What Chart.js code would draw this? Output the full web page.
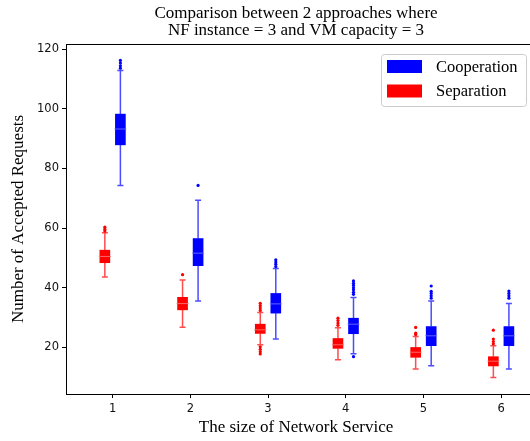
<!DOCTYPE html>
<html>
<head>
<meta charset="utf-8">
<script src="https://cdn.jsdelivr.net/npm/chart.js@4/dist/chart.umd.min.js"></script>
<style>
  html, body { margin: 0; padding: 0; background: #fff; overflow: hidden; }
  #wrap { width: 530px; height: 441px; }
</style>
</head>
<body>
<div id="wrap"><canvas id="chart"></canvas></div>
<script>
// x categories (size of network service) and y tick labels
const sizes = [1, 2, 3, 4, 5, 6];
const yTicks = [20, 40, 60, 80, 100, 120];

// Cooperation box stats per size
const coopLow    = [74.3, 35.6, 22.8, 17.9, 13.9, 12.8];
const coopQ1     = [87.9, 47.4, 31.5, 24.6, 20.6, 20.6];
const coopMedian = [93.2, 51.6, 34.6, 27.8, 23.9, 23.9];
const coopQ3     = [98.2, 56.5, 38.1, 29.8, 27.0, 27.0];
const coopHigh   = [112.8, 69.3, 46.5, 36.7, 35.6, 34.7];
const coopFliers = [
  [113.6, 114.4, 115.3, 116.2],
  [74.3],
  [47.1, 47.9, 48.6, 49.4],
  [16.9, 37.8, 38.5, 39.3, 40.0, 40.8, 41.5, 42.3],
  [36.5, 37.3, 38.1, 38.8, 40.6],
  [36.5, 37.3, 38.1, 38.9],
];

// Separation box stats per size
const sepLow    = [43.6, 26.8, 20.9, 15.9, 12.8, 9.9];
const sepQ1     = [48.4, 32.6, 24.7, 19.7, 16.7, 13.8];
const sepMedian = [50.5, 34.7, 25.9, 20.9, 18.4, 15.4];
const sepQ3     = [52.6, 36.8, 27.8, 23.0, 20.0, 16.9];
const sepHigh   = [58.4, 42.6, 31.7, 26.6, 23.7, 20.6];
const sepFliers = [
  [59.0, 59.6, 60.3],
  [44.4],
  [17.8, 18.6, 19.4, 20.2, 32.4, 33.2, 34.0, 34.8],
  [27.4, 28.2, 29.0, 29.8],
  [24.3, 24.8, 26.7],
  [21.2, 22.0, 22.8, 25.8],
];

const BLUE = '#0000ff';
const RED = '#ff0000';
const SHIFT = 0.1;

const groups = [
  { low: coopLow, q1: coopQ1, med: coopMedian, q3: coopQ3, high: coopHigh, shift: SHIFT,
    line: 'rgba(0,0,255,0.7)', median: 'rgba(110,110,255,0.9)' },
  { low: sepLow, q1: sepQ1, med: sepMedian, q3: sepQ3, high: sepHigh, shift: -SHIFT,
    line: 'rgba(255,0,0,0.7)', median: 'rgba(255,110,110,0.9)' },
];

function boxData(q1, q3, shift) {
  return sizes.map((s, i) => ({ x: s + shift, y: [q1[i], q3[i]] }));
}

function flierData(fliers, shift) {
  return fliers.flatMap((vals, i) => vals.map(v => ({ x: sizes[i] + shift, y: v })));
}

const serif = "'Liberation Serif', 'DejaVu Serif', serif";
const sans = "'DejaVu Sans', sans-serif";

const boxPlot = {
  id: 'boxPlot',
  beforeDatasetsDraw(chart) {
    const { ctx, scales: { x, y } } = chart;
    ctx.save();
    ctx.lineWidth = 1.5;
    groups.forEach(g => {
      ctx.strokeStyle = g.line;
      sizes.forEach((s, i) => {
        const px = x.getPixelForValue(s + g.shift);
        const yl = y.getPixelForValue(g.low[i]);
        const yh = y.getPixelForValue(g.high[i]);
        ctx.beginPath();
        ctx.moveTo(px, yl); ctx.lineTo(px, y.getPixelForValue(g.q1[i]));
        ctx.moveTo(px, y.getPixelForValue(g.q3[i])); ctx.lineTo(px, yh);
        ctx.moveTo(px - 3, yl); ctx.lineTo(px + 3, yl);
        ctx.moveTo(px - 3, yh); ctx.lineTo(px + 3, yh);
        ctx.stroke();
      });
    });
    ctx.restore();
  },
  afterDatasetsDraw(chart) {
    const { ctx, scales: { x, y } } = chart;
    ctx.save();
    ctx.lineWidth = 1;
    groups.forEach(g => {
      ctx.strokeStyle = g.median;
      sizes.forEach((s, i) => {
        const px = x.getPixelForValue(s + g.shift);
        const py = y.getPixelForValue(g.med[i]);
        ctx.beginPath();
        ctx.moveTo(px - 6, py); ctx.lineTo(px + 6, py);
        ctx.stroke();
      });
    });
    ctx.restore();
  },
  afterDraw(chart) {
    const { ctx, chartArea: a } = chart;
    ctx.save();
    // top spine; the right one lies past the edge of the picture
    ctx.strokeStyle = '#000';
    ctx.lineWidth = 1;
    ctx.beginPath();
    ctx.moveTo(a.left, a.top + 0.5); ctx.lineTo(chart.width, a.top + 0.5);
    ctx.moveTo(a.right, a.bottom + 0.5); ctx.lineTo(chart.width, a.bottom + 0.5);
    ctx.stroke();

    // legend box, upper right
    const w = 145, h = 52;
    const left = 381, top = a.top + 10;
    ctx.beginPath();
    ctx.roundRect(left + 0.5, top + 0.5, w, h, 3);
    ctx.fillStyle = 'rgba(255,255,255,0.8)';
    ctx.fill();
    ctx.strokeStyle = '#cccccc';
    ctx.stroke();
    ctx.font = '16.5px ' + serif;
    ctx.textBaseline = 'middle';
    chart.data.datasets.slice(0, 2).forEach((ds, i) => {
      const rowY = top + 12.5 + i * 24.5;
      ctx.fillStyle = ds.backgroundColor;
      ctx.fillRect(left + 6, rowY - 6.5, 35, 13);
      ctx.fillStyle = '#000';
      ctx.fillText(ds.label, left + 55, rowY + 1);
    });
    ctx.restore();
  },
};

new Chart(document.getElementById('chart'), {
  type: 'bar',
  data: {
    datasets: [
      {
        label: 'Cooperation',
        data: boxData(coopQ1, coopQ3, SHIFT),
        backgroundColor: BLUE,
        borderWidth: 0,
        barThickness: 10,
        grouped: false,
      },
      {
        label: 'Separation',
        data: boxData(sepQ1, sepQ3, -SHIFT),
        backgroundColor: RED,
        borderWidth: 0,
        barThickness: 10,
        grouped: false,
      },
      {
        type: 'scatter',
        label: 'Cooperation outliers',
        data: flierData(coopFliers, SHIFT),
        backgroundColor: BLUE,
        borderWidth: 0,
        pointRadius: 1.6,
      },
      {
        type: 'scatter',
        label: 'Separation outliers',
        data: flierData(sepFliers, -SHIFT),
        backgroundColor: RED,
        borderWidth: 0,
        pointRadius: 1.6,
      },
    ],
  },
  options: {
    responsive: true,
    maintainAspectRatio: false,
    animation: false,
    layout: { padding: { left: 0, right: 0, top: 0, bottom: 0 } },
    scales: {
      x: {
        type: 'linear',
        min: 0.4,
        max: 6.32,
        offset: false,
        afterBuildTicks: s => { s.ticks = sizes.map(v => ({ value: v })); },
        afterFit: s => { s.height = 47; },
        grid: { offset: false, drawOnChartArea: false, drawTicks: true, tickLength: 4, color: '#000' },
        border: { display: true, color: '#000', width: 1 },
        ticks: { color: '#111', padding: 4, font: { family: sans, size: 11.5 }, callback: v => String(v) },
        title: {
          display: true,
          text: 'The size of Network Service',
          color: '#000',
          font: { family: serif, size: 17, lineHeight: 1.2 },
          padding: { top: 0, bottom: 3 },
        },
      },
      y: {
        type: 'linear',
        min: 4.4,
        max: 121.7,
        afterBuildTicks: s => { s.ticks = yTicks.map(v => ({ value: v })); },
        afterFit: s => { s.width = 66; },
        grid: { drawOnChartArea: false, drawTicks: true, tickLength: 4, color: '#000' },
        border: { display: true, color: '#000', width: 1 },
        ticks: { color: '#111', padding: 3, font: { family: sans, size: 11.5 }, callback: v => String(v) },
        title: {
          display: true,
          text: 'Number of Accepted Requests',
          color: '#000',
          font: { family: serif, size: 17, lineHeight: 1.2 },
          padding: { top: 8.3, bottom: 0 },
        },
      },
    },
    plugins: {
      legend: { display: false },
      tooltip: { enabled: false },
      title: {
        display: true,
        fullSize: false,
        text: ['Comparison between 2 approaches where', 'NF instance = 3 and VM capacity = 3'],
        color: '#000',
        font: { family: serif, size: 17, weight: 'normal', lineHeight: '17px' },
        padding: { top: 5, bottom: 5 },
      },
    },
  },
  plugins: [boxPlot],
});
</script>
</body>
</html>
